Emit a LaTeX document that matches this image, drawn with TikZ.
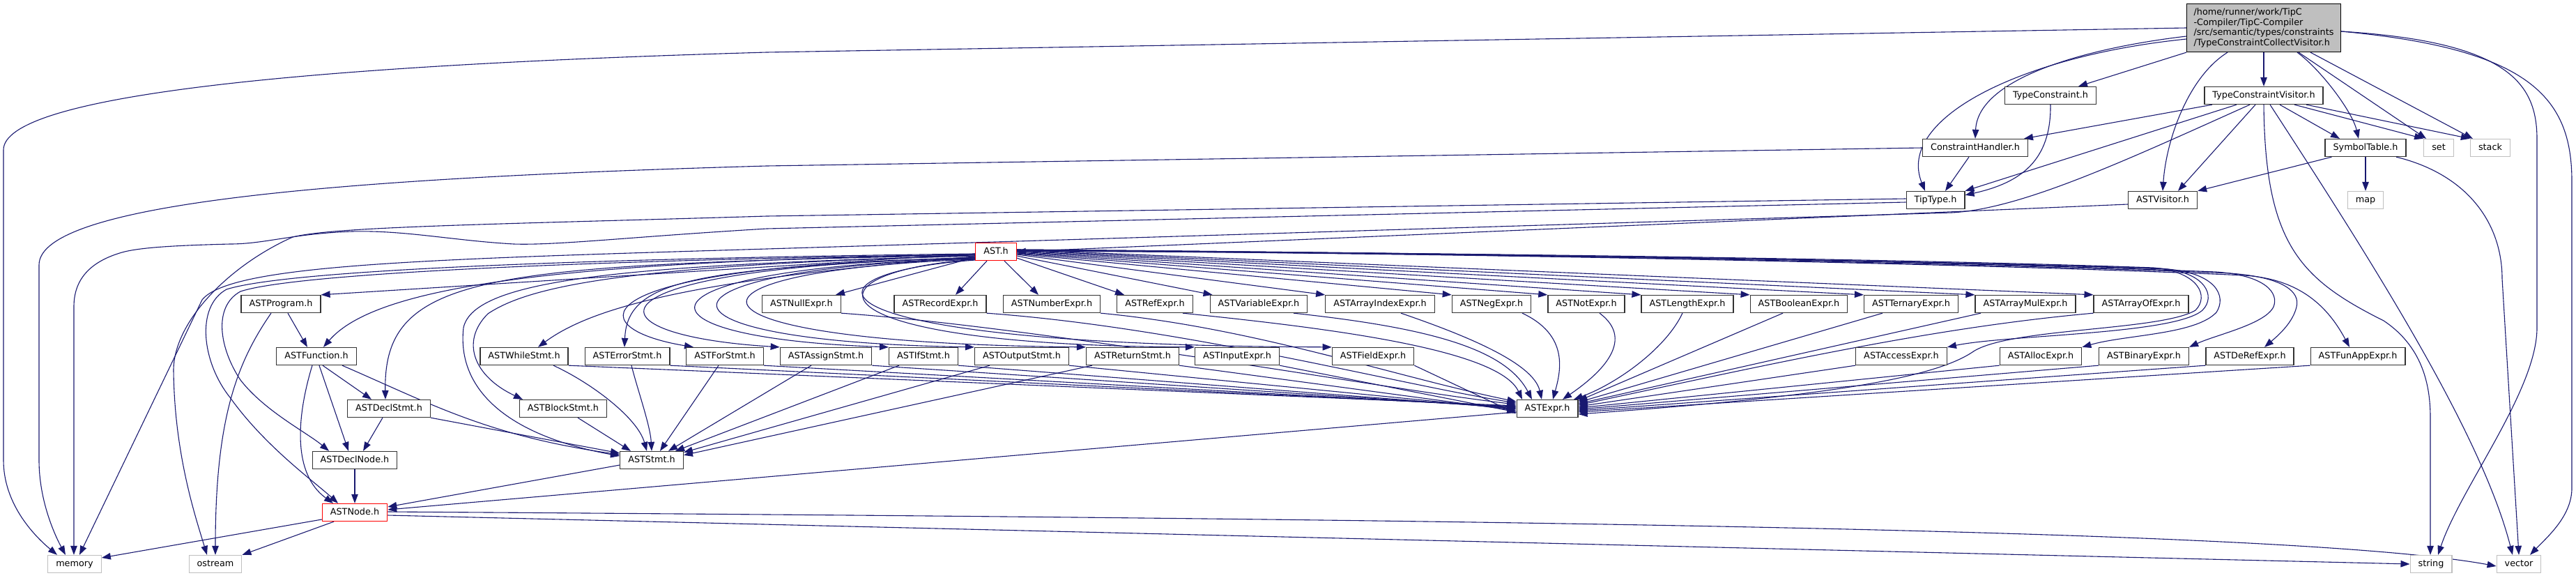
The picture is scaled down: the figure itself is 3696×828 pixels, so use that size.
\documentclass[tikz,border=0pt]{standalone}
\usepackage{fontspec}
\setmainfont{DejaVu Sans}
\usetikzlibrary{arrows.meta}
\definecolor{edgecol}{HTML}{191970}
\definecolor{greyb}{HTML}{BFBFBF}
\pgfdeclarelayer{bg}
\pgfsetlayers{bg,main}
\begin{document}
\begin{tikzpicture}[x=1pt,y=-1pt,
  every node/.style={font=\fontsize{12.8}{14.6}\selectfont},
  nd/.style={draw=black!80, fill=white, line width=1.3pt, minimum height=25pt, inner xsep=11.5pt, inner ysep=0pt, text height=9.6pt, text depth=2.6pt},
  gnd/.style={nd, draw=greyb},
  rnd/.style={nd, draw=red},
  topnd/.style={draw=black, fill=greyb, line width=1.3pt, align=left, inner xsep=10pt, inner ysep=4pt, minimum height=69pt},
  edg/.style={draw=edgecol, line width=1.1pt, -{Triangle[length=13pt,width=9.5pt]}}
]
\useasboundingbox (0,0) rectangle (3696,828);
% ---------- nodes ----------
\node[topnd] (top) at (3248,40) {/home/runner/work/TipC\\-Compiler/TipC-Compiler\\/src/semantic/types/constraints\\/TypeConstraintCollectVisitor.h};
\node[nd] (tc) at (2942,137) {TypeConstraint.h};
\node[nd] (tcv) at (3248,137) {TypeConstraintVisitor.h};
\node[nd] (ch) at (2834,212) {ConstraintHandler.h};
\node[nd] (st) at (3394,212) {SymbolTable.h};
\node[gnd] (set) at (3499,212) {set};
\node[gnd] (stack) at (3573,212) {stack};
\node[nd] (tip) at (2777,287) {TipType.h};
\node[nd] (vis) at (3103,287) {ASTVisitor.h};
\node[gnd] (map) at (3394,287) {map};
\node[rnd] (ast) at (1429,361) {AST.h};
\node[nd] (prog) at (403,436) {ASTProgram.h};
\node[nd] (nullx) at (1150,436) {ASTNullExpr.h};
\node[nd] (recx) at (1349,436) {ASTRecordExpr.h};
\node[nd] (numx) at (1509,436) {ASTNumberExpr.h};
\node[nd] (refx) at (1657,436) {ASTRefExpr.h};
\node[nd] (varx) at (1806,436) {ASTVariableExpr.h};
\node[nd] (aidx) at (1980,436) {ASTArrayIndexExpr.h};
\node[nd] (negx) at (2140,436) {ASTNegExpr.h};
\node[nd] (notx) at (2276,436) {ASTNotExpr.h};
\node[nd] (lenx) at (2421,436) {ASTLengthExpr.h};
\node[nd] (boolx) at (2581,436) {ASTBooleanExpr.h};
\node[nd] (terx) at (2742,436) {ASTTernaryExpr.h};
\node[nd] (amulx) at (2906,436) {ASTArrayMulExpr.h};
\node[nd] (aofx) at (3072,436) {ASTArrayOfExpr.h};
\node[nd] (func) at (454,511) {ASTFunction.h};
\node[nd] (whilest) at (752,511) {ASTWhileStmt.h};
\node[nd] (errst) at (900,511) {ASTErrorStmt.h};
\node[nd] (forst) at (1040,511) {ASTForStmt.h};
\node[nd] (asgst) at (1185,511) {ASTAssignStmt.h};
\node[nd] (ifst) at (1325,511) {ASTIfStmt.h};
\node[nd] (outst) at (1466,511) {ASTOutputStmt.h};
\node[nd] (retst) at (1625,511) {ASTReturnStmt.h};
\node[nd] (inx) at (1775,511) {ASTInputExpr.h};
\node[nd] (fldx) at (1970,511) {ASTFieldExpr.h};
\node[nd] (accx) at (2728,511) {ASTAccessExpr.h};
\node[nd] (allocx) at (2928,511) {ASTAllocExpr.h};
\node[nd] (binx) at (3076,511) {ASTBinaryExpr.h};
\node[nd] (derefx) at (3228,511) {ASTDeRefExpr.h};
\node[nd] (funappx) at (3383,511) {ASTFunAppExpr.h};
\node[nd] (declst) at (558,586) {ASTDeclStmt.h};
\node[nd] (blockst) at (808,586) {ASTBlockStmt.h};
\node[nd] (expr) at (2220,586) {ASTExpr.h};
\node[nd] (declnode) at (509,660) {ASTDeclNode.h};
\node[nd] (stmt) at (935,660) {ASTStmt.h};
\node[rnd] (astnode) at (509,735) {ASTNode.h};
\node[gnd] (memory) at (107,809) {memory};
\node[gnd] (ostream) at (309,809) {ostream};
\node[gnd] (string) at (3488,809) {string};
\node[gnd] (vector) at (3614,809) {vector};
% ---------- edges ----------
\begin{pgfonlayer}{bg}
% main
\draw[edg] (top.west) -- (1100,75) .. controls (400,95) and (5,140) .. (5,215) -- (5,660) .. controls (5,720) and (45,765) .. ([xshift=-25pt]memory.north);
\draw[edg] ([yshift=-12pt]top.west) .. controls (3000,68) and (2838,110) .. (ch.north);
\draw[edg] ([yshift=-16pt]top.west) .. controls (2900,80) and (2720,170) .. ([xshift=-15pt]tip.north);
\draw[edg] (top.south west) -- ([xshift=40pt]tc.north);
\draw[edg] ([xshift=-52pt]top.south) .. controls (3140,110) and (3108,200) .. (vis.north);
\draw[edg] (top) -- (tcv);
\draw[edg] ([xshift=48pt]top.south) .. controls (3330,100) and (3375,160) .. ([xshift=-10pt]st.north);
\draw[edg] ([xshift=50pt]top.south) -- ([xshift=4pt]set.north west);
\draw[edg] ([xshift=67pt]top.south) -- ([xshift=4pt]stack.north west);
\draw[edg] ([yshift=-5pt]top.east) .. controls (3600,60) and (3640,120) .. (3640,200) -- (3640,470) .. controls (3640,560) and (3530,700) .. ([xshift=10pt]string.north);
\draw[edg] ([yshift=-5pt]top.east) .. controls (3630,70) and (3690,140) .. (3690,260) -- (3690,700) .. controls (3690,740) and (3655,770) .. ([xshift=16pt]vector.north);
% TypeConstraintVisitor
\draw[edg] ([xshift=-74pt]tcv.south) -- ([xshift=70pt]ch.north);
\draw[edg] ([xshift=-39pt]tcv.south) -- (tip.north east);
\draw[edg] ([xshift=-20pt]tcv.south) .. controls (3050,230) and (2900,300) .. (2800,305) -- (1100,357) .. controls (600,372) and (330,380) .. (290,430) -- ([xshift=7pt]memory.north);
\draw[edg] ([xshift=-12pt]tcv.south) -- ([xshift=22pt]vis.north);
\draw[edg] (tcv.south) .. controls (3250,350) and (3300,400) .. (3420,460) .. controls (3480,500) and (3487,560) .. (3487,600) -- ([xshift=-1pt]string.north);
\draw[edg] ([xshift=9pt]tcv.south) .. controls (3400,370) and (3560,620) .. ([xshift=-9pt]vector.north);
\draw[edg] ([xshift=23pt]tcv.south) -- ([xshift=-37pt]st.north);
\draw[edg] ([xshift=44pt]tcv.south) -- (set.north west);
\draw[edg] ([xshift=61pt]tcv.south) -- (stack.north west);
% ConstraintHandler
\draw[edg] (ch.west) -- (1100,238) .. controls (500,255) and (56,290) .. (56,380) -- (56,660) .. controls (56,720) and (80,770) .. ([xshift=-13pt]memory.north);
\draw[edg] ([xshift=-9pt]ch.south) -- ([xshift=14pt]tip.north);
% TypeConstraint
\draw[edg] (tc.south) .. controls (2943,230) and (2900,262) .. ([yshift=-6pt]tip.north east);
% TipType
\draw[edg] ([yshift=2pt]tip.west) -- (1100,310) .. controls (700,322) and (480,325) .. (420,340) .. controls (330,380) and (250,460) .. (249,530) .. controls (250,650) and (280,740) .. ([xshift=-12pt]ostream.north);
\draw[edg] ([yshift=-3pt]tip.west) -- (1100,328) .. controls (900,340) and (800,352) .. (737,350) .. controls (650,345) and (580,330) .. (505,332) .. controls (420,335) and (380,350) .. (330,350) .. controls (250,352) and (200,355) .. (175,362) .. controls (130,375) and (106,400) .. (106,440) -- ([xshift=-1pt]memory.north);
% SymbolTable
\draw[edg] ([xshift=10pt]st.south west) -- (vis.north east);
\draw[edg] (st) -- (map);
\draw[edg] ([xshift=44pt]st.south) .. controls (3540,250) and (3590,320) .. (3590,400) -- (vector.north);
% ASTVisitor
\draw[edg] ([yshift=-6pt]vis.west) -- (ast.east);
% ASTNode
\draw[edg] ([yshift=-10pt]astnode.west) -- ([yshift=9pt]memory.east);
\draw[edg] ([xshift=-30pt]astnode.south) -- (ostream.north east);
\draw[edg] ([yshift=-4pt]astnode.east) -- (string.west);
\draw[edg] ([yshift=1pt]astnode.east) .. controls (2200,745) and (3300,760) .. ([yshift=-3pt]vector.west);
\draw[edg] ([yshift=-5pt]expr.west) -- ([yshift=4pt]astnode.east);
\draw[edg] ([yshift=-7pt]stmt.west) -- ([yshift=8pt]astnode.east);
\draw[edg] (declnode) -- (astnode);
% DeclStmt, Function, Program
\draw[edg] ([xshift=-9pt]declst.south) -- ([xshift=12pt]declnode.north);
\draw[edg] (declst.south east) -- ([yshift=10pt]stmt.west);
\draw[edg] ([xshift=9pt]func.south) -- ([xshift=-25pt]declst.north);
\draw[edg] ([xshift=4pt]func.south) -- ([xshift=-9pt]declnode.north);
\draw[edg] ([xshift=-6pt]func.south) .. controls (425,600) and (420,680) .. ([xshift=-31pt]astnode.north);
\draw[edg] ([xshift=37pt]func.south) .. controls (620,580) and (700,625) .. ([yshift=8pt]stmt.west);
\draw[edg] ([xshift=10pt]prog.south) -- ([xshift=-13pt]func.north);
\draw[edg] ([xshift=-14pt]prog.south) .. controls (340,520) and (309,600) .. (ostream.north);
% statements -> ASTStmt
\draw[edg] ([xshift=21pt]blockst.south) -- ([xshift=-30pt]stmt.north);
\draw[edg] ([xshift=42pt]whilest.south) .. controls (850,550) and (915,600) .. ([xshift=-7pt]stmt.north);
\draw[edg] ([xshift=6pt]errst.south) .. controls (915,560) and (933,610) .. (stmt.north);
\draw[edg] ([xshift=-9pt]forst.south) -- ([xshift=12pt]stmt.north);
\draw[edg] ([xshift=-21pt]asgst.south) -- ([xshift=24pt]stmt.north);
\draw[edg] ([xshift=-35pt]ifst.south) -- ([xshift=34pt]stmt.north);
\draw[edg] ([xshift=-46pt]outst.south) -- ([yshift=-2pt]stmt.north east);
\draw[edg] ([xshift=-58pt]retst.south) -- ([yshift=-6pt]stmt.north east);
% statements -> ASTExpr
\draw[edg] (whilest.south east) -- ([yshift=4pt]expr.west);
\draw[edg] (errst.south east) -- ([yshift=3pt]expr.west);
\draw[edg] (forst.south east) -- ([yshift=2pt]expr.west);
\draw[edg] (asgst.south east) -- ([yshift=1pt]expr.west);
\draw[edg] (ifst.south east) -- (expr.west);
\draw[edg] (outst.south east) -- ([yshift=-1pt]expr.west);
\draw[edg] (retst.south east) -- ([yshift=-3pt]expr.west);
\draw[edg] (inx.south east) -- ([yshift=-5pt]expr.west);
\draw[edg] (fldx.south east) -- ([yshift=-7pt]expr.west);
% expressions -> ASTExpr
\draw[edg] (nullx.south east) .. controls (1500,470) and (2000,560) .. ([yshift=6pt]expr.west);
\draw[edg] (recx.south east) .. controls (1700,470) and (2000,550) .. ([yshift=8pt]expr.west);
\draw[edg] (numx.south east) .. controls (1800,470) and (2000,540) .. ([yshift=10pt]expr.west);
\draw[edg] ([xshift=40pt]refx.south) .. controls (1900,470) and (2150,500) .. ([xshift=-36pt]expr.north);
\draw[edg] ([xshift=50pt]varx.south) .. controls (2050,470) and (2160,500) .. ([xshift=-22pt]expr.north);
\draw[edg] ([xshift=30pt]aidx.south) .. controls (2100,480) and (2200,520) .. ([xshift=-8pt]expr.north);
\draw[edg] ([xshift=44pt]negx.south) .. controls (2250,480) and (2240,530) .. ([xshift=8pt]expr.north);
\draw[edg] ([xshift=19pt]notx.south) .. controls (2350,490) and (2290,540) .. ([xshift=22pt]expr.north);
\draw[edg] ([xshift=-7pt]lenx.south) .. controls (2390,500) and (2320,550) .. ([xshift=38pt]expr.north);
\draw[edg] ([xshift=-23pt]boolx.south) -- ([yshift=11pt]expr.east);
\draw[edg] ([xshift=-41pt]terx.south) -- ([yshift=9pt]expr.east);
\draw[edg] ([xshift=-64pt]amulx.south) -- ([yshift=7pt]expr.east);
\draw[edg] (aofx.south west) .. controls (2772,470) and (2550,520) .. ([yshift=5pt]expr.east);
\draw[edg] (accx.south west) -- ([yshift=3pt]expr.east);
\draw[edg] (allocx.south west) -- ([yshift=1pt]expr.east);
\draw[edg] (binx.south west) -- ([yshift=-1pt]expr.east);
\draw[edg] (derefx.south west) -- ([yshift=-3pt]expr.east);
\draw[edg] (funappx.south west) -- ([yshift=-5pt]expr.east);
% AST.h -> row A
\draw[edg] ([yshift=-8pt]ast.west) -- ([xshift=49pt]nullx.north);
\draw[edg] ([xshift=-13pt]ast.south) -- ([xshift=22pt]recx.north);
\draw[edg] ([xshift=12pt]ast.south) -- ([xshift=-19pt]numx.north);
\draw[edg] ([yshift=-9pt]ast.east) -- ([xshift=-44pt]refx.north);
\draw[edg] ([yshift=-6pt]ast.east) -- ([xshift=4pt]varx.north west);
\draw[edg] ([yshift=-4pt]ast.east) -- (aidx.north west);
\draw[edg] ([yshift=-3pt]ast.east) -- (negx.north west);
\draw[edg] ([yshift=-2pt]ast.east) -- (notx.north west);
\draw[edg] ([yshift=-1pt]ast.east) -- (lenx.north west);
\draw[edg] (ast.east) -- (boolx.north west);
\draw[edg] ([yshift=1pt]ast.east) -- (terx.north west);
\draw[edg] ([yshift=2pt]ast.east) -- (amulx.north west);
\draw[edg] ([yshift=3pt]ast.east) -- (aofx.north west);
% AST.h -> right loops
\draw[edg] ([yshift=3pt]ast.east) .. controls (2000,362) and (2700,372) .. (3100,385) .. controls (3165,390) and (3180,425) .. (3160,445) .. controls (3120,480) and (2880,480) .. (accx.north east);
\draw[edg] ([yshift=3pt]ast.east) .. controls (2000,362) and (2700,372) .. (3110,386) .. controls (3180,392) and (3195,425) .. (3180,448) .. controls (3150,480) and (3050,480) .. (allocx.north east);
\draw[edg] ([yshift=2pt]ast.east) .. controls (2000,362) and (2700,370) .. (3090,384) .. controls (3155,390) and (3170,425) .. (3150,445) .. controls (3100,475) and (2880,470) .. (2830,505) .. controls (2770,545) and (2600,570) .. ([yshift=-8pt]expr.east);
\draw[edg] ([yshift=2pt]ast.east) .. controls (2100,362) and (2800,375) .. (3180,390) .. controls (3250,395) and (3270,420) .. (3262,440) .. controls (3250,465) and (3180,480) .. (binx.north east);
\draw[edg] ([yshift=1pt]ast.east) .. controls (2100,362) and (2850,378) .. (3200,392) .. controls (3280,398) and (3300,420) .. (3295,440) .. controls (3290,462) and (3270,480) .. ([xshift=21pt]derefx.north);
\draw[edg] ([yshift=1pt]ast.east) .. controls (2100,362) and (2900,380) .. (3220,395) .. controls (3300,400) and (3340,440) .. ([xshift=-12pt]funappx.north);
% AST.h -> left side
\draw[edg] ([yshift=-3pt]ast.west) -- (prog.north east);
\draw[edg] ([yshift=-4pt]ast.west) .. controls (800,375) and (540,410) .. ([xshift=10pt]func.north);
\draw[edg] ([yshift=-5pt]ast.west) .. controls (700,380) and (550,390) .. ([xshift=-5pt]declst.north);
\draw[edg] ([yshift=-6pt]ast.west) .. controls (900,380) and (760,410) .. (700,450) .. controls (660,490) and (680,540) .. ([xshift=-58pt]blockst.north);
\draw[edg] ([yshift=-6pt]ast.west) .. controls (900,380) and (680,400) .. (665,470) .. controls (655,560) and (730,625) .. ([yshift=6pt]stmt.west);
\draw[edg] ([yshift=-4pt]ast.west) .. controls (900,372) and (430,390) .. (345,418) .. controls (305,440) and (315,500) .. (345,545) .. controls (380,590) and (440,620) .. ([xshift=-37pt]declnode.north);
\draw[edg] ([yshift=-3pt]ast.west) .. controls (900,370) and (420,385) .. (325,415) .. controls (280,440) and (290,520) .. (330,570) .. controls (380,640) and (450,690) .. ([xshift=-24pt]astnode.north);
\draw[edg] ([yshift=-7pt]ast.west) .. controls (1000,400) and (850,440) .. ([xshift=20pt]whilest.north);
\draw[edg] ([yshift=-8pt]ast.west) .. controls (1000,385) and (900,400) .. ([xshift=-4pt]errst.north);
\draw[edg] ([yshift=-9pt]ast.west) .. controls (827,380) and (827,470) .. ([xshift=-45pt]forst.north);
\draw[edg] ([yshift=-9pt]ast.west) .. controls (827,382) and (827,480) .. (asgst.north west);
\draw[edg] ([yshift=-10pt]ast.west) .. controls (888,384) and (888,485) .. (ifst.north west);
\draw[edg] ([yshift=-10pt]ast.west) .. controls (907,386) and (907,490) .. (outst.north west);
\draw[edg] ([yshift=-11pt]ast.west) .. controls (940,388) and (940,492) .. (retst.north west);
\draw[edg] ([yshift=-11pt]ast.west) .. controls (1148,390) and (1148,495) .. (inx.north west);
\draw[edg] ([yshift=-12pt]ast.west) .. controls (1131,392) and (1131,495) .. (fldx.north west);
\end{pgfonlayer}
\end{tikzpicture}
\end{document}
